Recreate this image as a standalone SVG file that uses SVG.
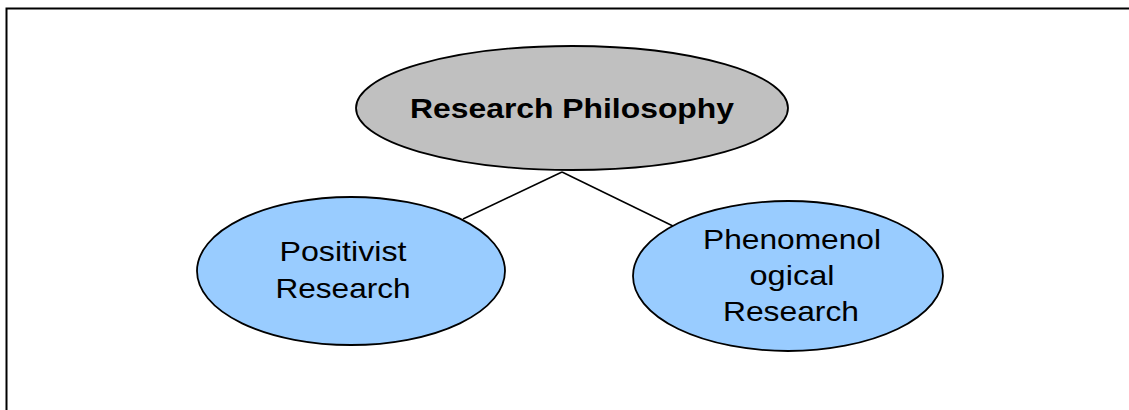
<svg xmlns="http://www.w3.org/2000/svg" width="1129" height="410" viewBox="0 0 1129 410">
  <style>
    .frame { fill: none; stroke: #000; stroke-width: 2; }
    .edge { stroke: #000; stroke-width: 1.5; fill: none; }
    .node { stroke: #000; stroke-width: 1.8; }
    .root { fill: #C0C0C0; }
    .leaf { fill: #99CCFF; }
    .label { font-family: "Liberation Sans", Arial, sans-serif; fill: #000; text-anchor: middle; }
    .title { font-size: 28px; font-weight: bold; }
    .sub { font-size: 28px; }
  </style>
  <rect width="1129" height="410" fill="#fff"/>
  <!-- page frame: open on the right and bottom -->
  <path class="frame" d="M1129,8.5 H6.5 V410"/>

  <g id="connectors">
    <line class="edge" x1="562" y1="172" x2="463" y2="219"/>
    <line class="edge" x1="562" y1="172" x2="675" y2="227"/>
  </g>

  <g id="research-philosophy">
    <ellipse class="node root" cx="572" cy="108" rx="216" ry="62"/>
    <text class="label title" x="572" y="118" textLength="324" lengthAdjust="spacingAndGlyphs">Research Philosophy</text>
  </g>

  <g id="positivist-research">
    <ellipse class="node leaf" cx="351" cy="271" rx="154" ry="74"/>
    <text class="label sub" x="343" y="261" textLength="127" lengthAdjust="spacingAndGlyphs">Positivist</text>
    <text class="label sub" x="343" y="298" textLength="135" lengthAdjust="spacingAndGlyphs">Research</text>
  </g>

  <g id="phenomenological-research">
    <ellipse class="node leaf" cx="788" cy="276" rx="155" ry="75"/>
    <text class="label sub" x="792" y="249" textLength="178" lengthAdjust="spacingAndGlyphs">Phenomenol</text>
    <text class="label sub" x="792" y="285" textLength="85" lengthAdjust="spacingAndGlyphs">ogical</text>
    <text class="label sub" x="791" y="321" textLength="136" lengthAdjust="spacingAndGlyphs">Research</text>
  </g>
</svg>
